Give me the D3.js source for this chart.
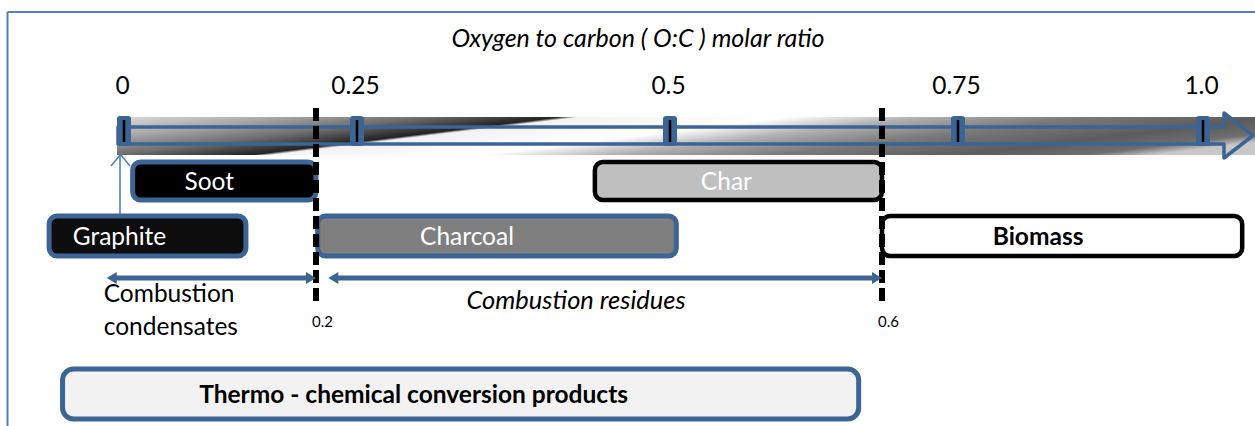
<!DOCTYPE html>
<html lang="en">
<head>
<meta charset="UTF-8">
<title>O:C ratio diagram</title>
<script src="https://cdn.jsdelivr.net/npm/d3@7"></script>
<style>
    body { margin: 0; background: #fff; }
    text { font-family: Lato, "Open Sans", sans-serif; }
</style>
</head>
<body>
<div id="viz_area"></div>
<script>
    // values (O:C molar ratio units)
    const axisTicks = [0, 0.25, 0.5, 0.75, 1.0];
    const tickLabels = ["0", "0.25", "0.5", "0.75", "1.0"];
    const cutoffs = [0.2, 0.6];
    const cutoffLabels = ["0.2", "0.6"];

    const boxNames = ["Soot", "Char", "Graphite", "Charcoal", "Biomass", "Thermo - chemical conversion products"];
    const boxFrom = [0.009, 0.44, -0.078, 0.202, 0.6, -0.064];
    const boxTo = [0.2, 0.6, 0.127, 0.503, 1.04, 0.589];
    const boxRow = [0, 0, 1, 1, 1, 2];

    const spanNames = ["Combustion condensates", "Combustion residues"];
    const spanFrom = [-0.018, 0.215];
    const spanTo = [0.2, 0.6];

    const width = 1255, height = 426;
    const blue = "#3c6494", frameBlue = "#4f81bd";

    const svg = d3.select('#viz_area')
        .append("svg")
        .attr("width", width)
        .attr("height", height);

    // the drawing is schematic, so the axis is piecewise linear
    const x = d3.scaleLinear()
        .domain([0, 0.2, 0.25, 0.5, 0.6, 0.75, 1.0])
        .range([124, 316, 357, 670, 882, 958, 1203]);

    const rowTop = [162, 216, 369], rowH = [38, 40, 50];

    const boxStyle = {
        "Soot":     {fill: "#000", stroke: blue, color: "#fff", weight: 400, shift: -15},
        "Char":     {fill: "#bfbfbf", stroke: "#000", color: "#fff", weight: 400, shift: -12},
        "Graphite": {fill: "#0d0d0d", stroke: blue, color: "#fff", weight: 400, shift: -28},
        "Charcoal": {fill: "#7f7f7f", stroke: blue, color: "#fff", weight: 400, shift: -30},
        "Biomass":  {fill: "#fff", stroke: "#000", color: "#000", weight: 700, shift: -24},
        "Thermo - chemical conversion products": {fill: "#f2f2f2", stroke: blue, color: "#000", weight: 700, shift: -47}
    };

    // frame
    svg.append("line").attr("x1", 7.5).attr("x2", 7.5).attr("y1", 12).attr("y2", height)
        .attr("stroke", frameBlue).attr("stroke-width", 2);
    svg.append("line").attr("x1", 7.5).attr("x2", width).attr("y1", 12).attr("y2", 12)
        .attr("stroke", frameBlue).attr("stroke-width", 2);

    // title
    svg.append("text")
        .attr("x", 638).attr("y", 47)
        .attr("text-anchor", "middle")
        .style("font-style", "italic")
        .style("font-size", "25px")
        .text("Oxygen to carbon ( O:C ) molar ratio");

    // metallic band behind the axis arrow
    const grad = svg.append("defs").append("linearGradient")
        .attr("id", "band")
        .attr("x1", 0).attr("y1", 0).attr("x2", 1.1).attr("y2", 0.3);
    [[0, "#dcdcdc"], [0.12, "#a8a8a8"], [0.23, "#6e6e6e"], [0.33, "#222"], [0.345, "#f2f2f2"],
        [0.5, "#ffffff"], [0.6, "#b0b0b0"], [0.72, "#7a7a7a"], [0.86, "#5c5c5c"], [0.95, "#6e6e6e"], [1, "#c8c8c8"]]
        .forEach(function(s) {
            grad.append("stop").attr("offset", s[0]).attr("stop-color", s[1]);
        });

    svg.append("rect")
        .attr("x", x(0) - 7).attr("y", 117)
        .attr("width", width - x(0) + 7).attr("height", 38)
        .attr("fill", "url(#band)");

    // block arrow outline
    const x0 = x(0) - 6, headBack = 1224, tip = 1253;
    svg.append("path")
        .attr("d", "M" + x0 + ",127 L" + headBack + ",127 L" + headBack + ",113 L" + tip + ",135.5 L" +
            headBack + ",158 L" + headBack + ",144 L" + x0 + ",144 Z")
        .attr("fill", "none")
        .attr("stroke", blue)
        .attr("stroke-width", 3.5)
        .attr("stroke-linejoin", "round");

    // tick markers on the arrow
    const ticks = svg.append("g").selectAll("g")
        .data(axisTicks)
        .join("g");
    ticks.append("rect")
        .attr("x", function(d) { return x(d) - 7; })
        .attr("y", 116).attr("width", 14).attr("height", 30).attr("rx", 3)
        .attr("fill", blue);
    ticks.append("line")
        .attr("x1", function(d) { return x(d); })
        .attr("x2", function(d) { return x(d); })
        .attr("y1", 120).attr("y2", 142)
        .attr("stroke", "#000").attr("stroke-width", 2.5);

    // tick labels
    const axis = d3.axisTop(x)
        .tickValues(axisTicks)
        .tickFormat(function(d, i) { return tickLabels[i]; })
        .tickSizeInner(0).tickSizeOuter(0).tickPadding(0);
    const gAxis = svg.append("g").attr("transform", "translate(-2,94)").call(axis);
    gAxis.select(".domain").remove();
    gAxis.selectAll("text")
        .style("font-family", "Lato, sans-serif")
        .style("font-size", "24.5px")
        .attr("fill", "#000");

    // up arrow from graphite to zero
    svg.append("line").attr("x1", x(0) - 4).attr("x2", x(0) - 4).attr("y1", 216).attr("y2", 155)
        .attr("stroke", frameBlue).attr("stroke-width", 1.6);
    svg.append("path")
        .attr("d", "M" + (x(0) - 13) + ",166 L" + (x(0) - 3.5) + ",154.5 L" + (x(0) + 6) + ",166")
        .attr("fill", "none").attr("stroke", frameBlue).attr("stroke-width", 1.6);

    // boxes
    const boxes = svg.append("g").selectAll("g")
        .data(boxNames)
        .join("g");
    boxes.append("rect")
        .attr("x", function(d, i) { return x(boxFrom[i]); })
        .attr("y", function(d, i) { return rowTop[boxRow[i]]; })
        .attr("width", function(d, i) { return x(boxTo[i]) - x(boxFrom[i]); })
        .attr("height", function(d, i) { return rowH[boxRow[i]]; })
        .attr("rx", function(d, i) { return boxRow[i] === 2 ? 11 : 8; })
        .attr("fill", function(d) { return boxStyle[d].fill; })
        .attr("stroke", function(d) { return boxStyle[d].stroke; })
        .attr("stroke-width", function(d) { return boxStyle[d].stroke === blue ? 5 : 4.5; });
    boxes.append("text")
        .attr("x", function(d, i) { return (x(boxFrom[i]) + x(boxTo[i])) / 2 + boxStyle[d].shift; })
        .attr("y", function(d, i) { return rowTop[boxRow[i]] + rowH[boxRow[i]] / 2; })
        .attr("dy", "0.35em")
        .attr("text-anchor", "middle")
        .attr("fill", function(d) { return boxStyle[d].color; })
        .style("font-weight", function(d) { return boxStyle[d].weight; })
        .style("font-size", "24.5px")
        .text(function(d) { return d; });

    // dashed cut-off lines
    svg.append("g").selectAll("line")
        .data(cutoffs)
        .join("line")
        .attr("x1", function(d) { return x(d); })
        .attr("x2", function(d) { return x(d); })
        .attr("y1", 108).attr("y2", 305)
        .attr("stroke", "#000").attr("stroke-width", 6)
        .attr("stroke-dasharray", "13,5");
    svg.append("g").selectAll("text")
        .data(cutoffs)
        .join("text")
        .attr("x", function(d) { return x(d) - 4; })
        .attr("y", 327)
        .style("font-size", "15px")
        .text(function(d, i) { return cutoffLabels[i]; });

    // double-headed range arrows
    const spanY = 278, head = 10, half = 6;
    const spans = svg.append("g").selectAll("g")
        .data(spanNames)
        .join("g");
    spans.append("line")
        .attr("x1", function(d, i) { return x(spanFrom[i]) + head - 1; })
        .attr("x2", function(d, i) { return x(spanTo[i]) - head + 1; })
        .attr("y1", spanY).attr("y2", spanY)
        .attr("stroke", blue).attr("stroke-width", 5);
    spans.append("path")
        .attr("d", function(d, i) {
            const a = x(spanFrom[i]), b = x(spanTo[i]);
            return "M" + a + "," + spanY + " L" + (a + head) + "," + (spanY - half) + " L" + (a + head) + "," + (spanY + half) + " Z" +
                "M" + b + "," + spanY + " L" + (b - head) + "," + (spanY - half) + " L" + (b - head) + "," + (spanY + half) + " Z";
        })
        .attr("fill", blue);

    // range labels
    const cond = svg.append("text")
        .attr("x", x(spanFrom[0]) - 3).attr("y", 302)
        .style("font-size", "24.5px");
    cond.append("tspan").text(spanNames[0].split(" ")[0]);
    cond.append("tspan").attr("x", x(spanFrom[0]) - 3).attr("dy", 33).text(spanNames[0].split(" ")[1]);

    svg.append("text")
        .attr("x", (x(spanFrom[1]) + x(spanTo[1])) / 2 - 29).attr("y", 309)
        .attr("text-anchor", "middle")
        .style("font-style", "italic")
        .style("font-size", "25.5px")
        .text(spanNames[1]);
</script>
</body>
</html>
